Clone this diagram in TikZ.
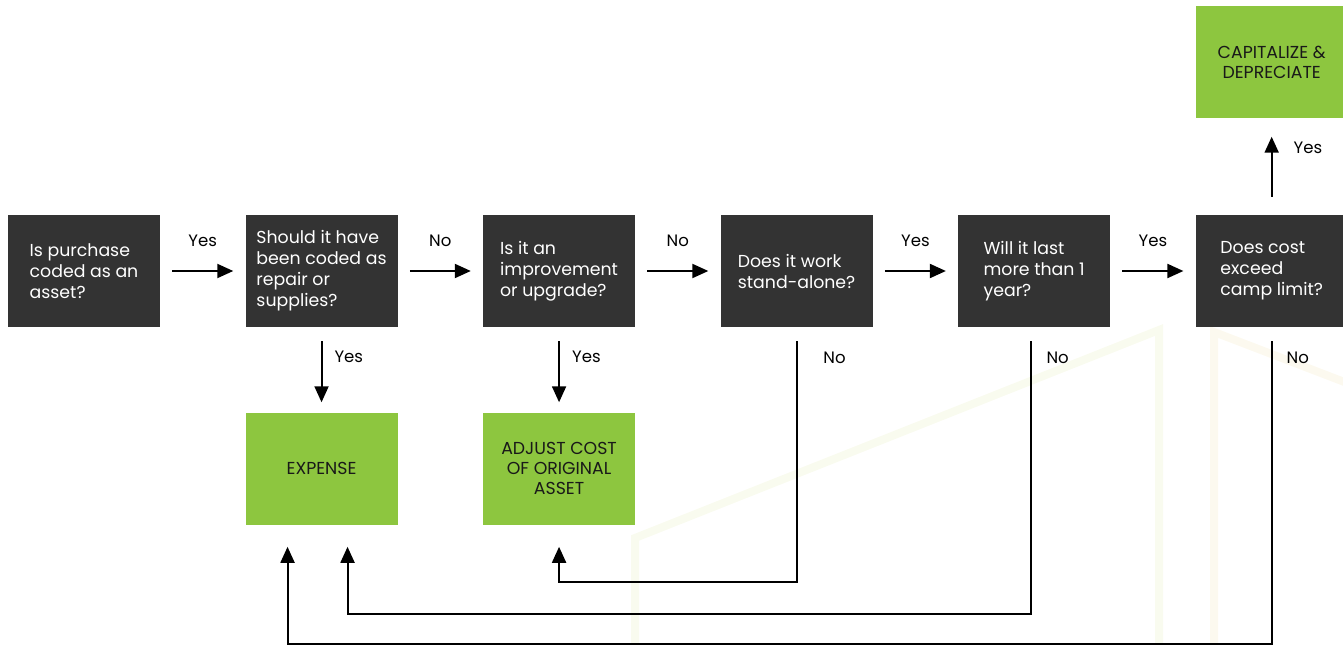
\documentclass[tikz,border=0pt]{standalone}
\usepackage{fontspec}
\setmainfont{Poppins}
\usetikzlibrary{arrows.meta,positioning}

\definecolor{boxgray}{HTML}{333333}
\definecolor{leafgreen}{HTML}{8DC63F}
\definecolor{faintgreen}{HTML}{F9FBEF}
\definecolor{faintsand}{HTML}{FCF9EF}

\begin{document}
\begin{tikzpicture}[x=0.75pt,y=0.75pt,node distance=63.75pt and 63.75pt,every node/.style={font=\fontsize{12.4pt}{15pt}\selectfont},ask/.style={rectangle,fill=boxgray,text=white,minimum width=114pt,minimum height=84pt,inner sep=0pt,align=left,font=\fontsize{13pt}{15.75pt}\selectfont},result/.style={rectangle,fill=leafgreen,text=black!90,minimum width=114pt,minimum height=84pt,inner sep=0pt,align=center,font=\fontsize{13pt}{14.8pt}\selectfont},arrow/.style={-{Triangle[length=12pt,width=10.5pt]},line width=1.5pt},back/.style={arrow,shorten <=10.5pt,shorten >=16.5pt},house/.style={line width=6pt}]
\useasboundingbox (0,0) rectangle (1343,-645);
% faint house outline behind the chart
\draw[house,faintgreen] (635,-660) -- (635,-538) -- (1159,-330) -- (1159,-660);
\draw[house,faintsand] (1214,-660) -- (1214,-332) -- (1360,-388);
\node[ask](coded) at (84,-271){Is purchase\\coded as an\\asset?};
\node[ask,right=of coded](repair){Should it have\\been coded as\\repair or\\supplies?};
\node[ask,right=of repair](improve){Is it an\\improvement\\or upgrade?};
\node[ask,right=of improve](standalone){Does it work\\stand-alone?};
\node[ask,right=of standalone](lasting){Will it last\\more than 1\\year?};
\node[ask,right=of lasting](limit){Does cost\\exceed\\camp limit?};
\node[result,below=of repair](expense){EXPENSE};
\node[result,below=of improve](adjust){ADJUST COST\\OF ORIGINAL\\ASSET};
\node[result,above=72pt of limit](capital){CAPITALIZE \&\\DEPRECIATE};
\draw[arrow]([xshift=9pt]coded.east)--node[yshift=22.5pt]{Yes}([xshift=-9pt]repair.west);
\draw[arrow]([xshift=9pt]repair.east)--node[yshift=22.5pt]{No}([xshift=-9pt]improve.west);
\draw[arrow]([xshift=9pt]improve.east)--node[yshift=22.5pt]{No}([xshift=-9pt]standalone.west);
\draw[arrow]([xshift=9pt]standalone.east)--node[yshift=22.5pt]{Yes}([xshift=-9pt]lasting.west);
\draw[arrow]([xshift=9pt]lasting.east)--node[yshift=22.5pt]{Yes}([xshift=-9pt]limit.west);
\draw[arrow]([yshift=-10.5pt]repair.south)--node[pos=0.26,right=5.7pt]{Yes}([yshift=7.5pt]expense.north);
\draw[arrow]([yshift=-10.5pt]improve.south)--node[pos=0.26,right=5.7pt]{Yes}([yshift=7.5pt]adjust.north);
\draw[arrow]([yshift=13.5pt]limit.north)--node[pos=0.82,right=12.4pt]{Yes}([yshift=-13.5pt]capital.south);
% the No branches run back under the chart
\draw[back](standalone.south)--node[pos=0.118,right=16pt]{No}++(0,-191.25pt)-|(adjust.south);
\draw[back]([xshift=-2pt]lasting.south)--node[pos=0.105,right=7.2pt]{No}++(0,-215.25pt)-|([xshift=19.5pt]expense.south);
\draw[back](limit.south)--node[pos=0.095,right=7.2pt]{No}++(0,-237.75pt)-|([xshift=-25.5pt]expense.south);
\end{tikzpicture}
\end{document}
